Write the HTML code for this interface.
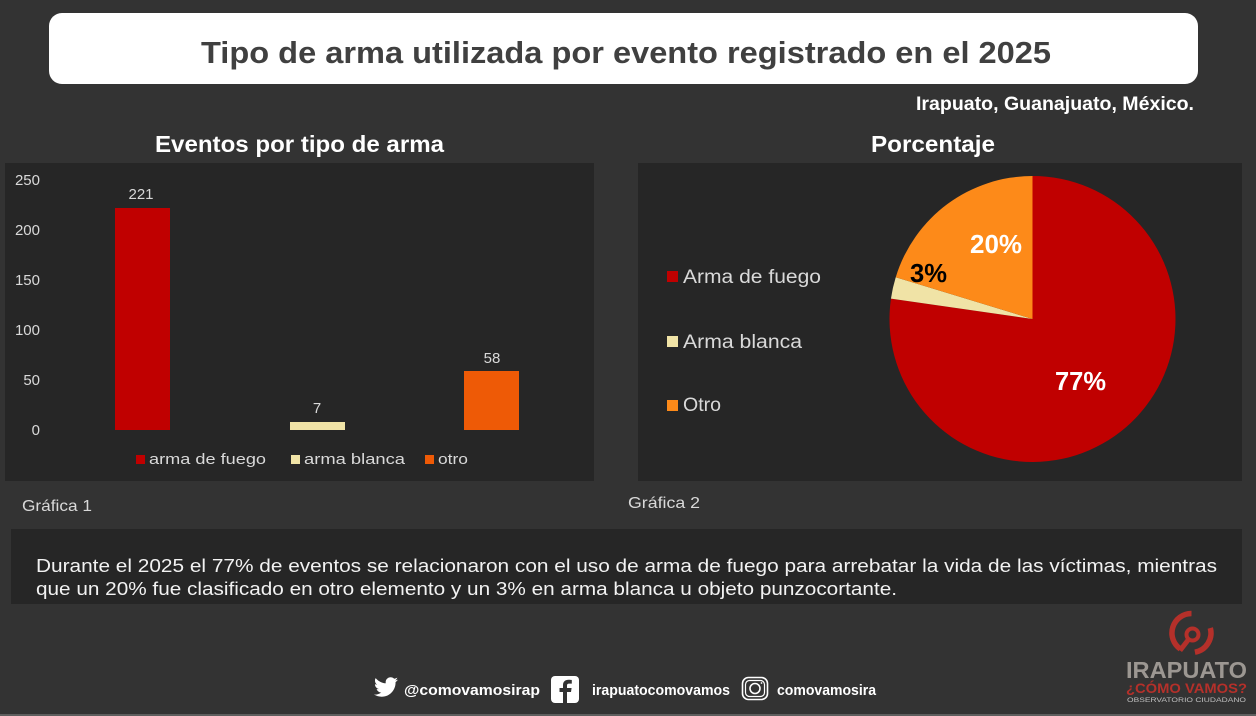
<!DOCTYPE html>
<html>
<head>
<meta charset="utf-8">
<style>
  html, body { margin:0; padding:0; background:#333333; }
  svg { display:block; }
  text { font-family: "Liberation Sans", "DejaVu Sans", sans-serif; }
</style>
</head>
<body>
<svg width="1256" height="716" viewBox="0 0 1256 716" xmlns="http://www.w3.org/2000/svg">
  <rect x="0" y="0" width="1256" height="716" fill="#333333"/>

  <!-- Title box -->
  <rect x="49" y="13" width="1149" height="71" rx="13" ry="13" fill="#ffffff"/>
  <text x="201" y="63" font-size="31" font-weight="bold" fill="#404040" textLength="850" lengthAdjust="spacingAndGlyphs">Tipo de arma utilizada por evento registrado en el 2025</text>

  <text x="916" y="110" font-size="19" font-weight="bold" fill="#ffffff" textLength="278" lengthAdjust="spacingAndGlyphs">Irapuato, Guanajuato, México.</text>

  <!-- Section titles -->
  <text x="155" y="152" font-size="23" font-weight="bold" fill="#ffffff" textLength="289" lengthAdjust="spacingAndGlyphs">Eventos por tipo de arma</text>
  <text x="871" y="152" font-size="23" font-weight="bold" fill="#ffffff" textLength="124" lengthAdjust="spacingAndGlyphs">Porcentaje</text>

  <!-- Left panel -->
  <rect x="5" y="163" width="589" height="318" fill="#262626"/>
  <g font-size="15" fill="#d9d9d9" text-anchor="end">
    <text x="40" y="185">250</text>
    <text x="40" y="235">200</text>
    <text x="40" y="285">150</text>
    <text x="40" y="335">100</text>
    <text x="40" y="385">50</text>
    <text x="40" y="435">0</text>
  </g>
  <rect x="115" y="208" width="55" height="222" fill="#c00000"/>
  <rect x="290" y="422" width="55" height="8" fill="#f0e3a6"/>
  <rect x="464" y="371" width="55" height="59" fill="#ee5a06"/>
  <g font-size="15" fill="#d9d9d9" text-anchor="middle">
    <text x="141" y="199">221</text>
    <text x="317" y="413">7</text>
    <text x="492" y="363">58</text>
  </g>
  <!-- bar legend -->
  <rect x="136" y="455" width="9" height="9" fill="#c00000"/>
  <text x="149" y="464" font-size="15" fill="#d9d9d9" textLength="117" lengthAdjust="spacingAndGlyphs">arma de fuego</text>
  <rect x="291" y="455" width="9" height="9" fill="#f0e3a6"/>
  <text x="304" y="464" font-size="15" fill="#d9d9d9" textLength="101" lengthAdjust="spacingAndGlyphs">arma blanca</text>
  <rect x="425" y="455" width="9" height="9" fill="#ee5a06"/>
  <text x="438" y="464" font-size="15" fill="#d9d9d9" textLength="30" lengthAdjust="spacingAndGlyphs">otro</text>

  <text x="22" y="511" font-size="16" fill="#d9d9d9" textLength="70" lengthAdjust="spacingAndGlyphs">Gráfica 1</text>

  <!-- Right panel -->
  <rect x="638" y="163" width="604" height="318" fill="#262626"/>
  <!-- pie -->
  <path d="M1032.5 319 L1032.5 176 A143 143 0 1 1 890.95 298.65 Z" fill="#c00000"/>
  <path d="M1032.5 319 L890.95 298.65 A143 143 0 0 1 895.74 277.22 Z" fill="#f0e3a6"/>
  <path d="M1032.5 319 L895.74 277.22 A143 143 0 0 1 1032.5 176 Z" fill="#fd8a19"/>
  <text x="970" y="253" font-size="26" font-weight="bold" fill="#ffffff" textLength="52" lengthAdjust="spacingAndGlyphs">20%</text>
  <text x="910" y="282" font-size="26" font-weight="bold" fill="#000000" textLength="37" lengthAdjust="spacingAndGlyphs">3%</text>
  <text x="1055" y="390" font-size="26" font-weight="bold" fill="#ffffff" textLength="51" lengthAdjust="spacingAndGlyphs">77%</text>
  <!-- pie legend -->
  <rect x="667" y="271" width="11" height="11" fill="#c00000"/>
  <text x="683" y="283" font-size="19" fill="#d9d9d9" textLength="138" lengthAdjust="spacingAndGlyphs">Arma de fuego</text>
  <rect x="667" y="336" width="11" height="11" fill="#f0e3a6"/>
  <text x="683" y="348" font-size="19" fill="#d9d9d9" textLength="119" lengthAdjust="spacingAndGlyphs">Arma blanca</text>
  <rect x="667" y="400" width="11" height="11" fill="#fd8a19"/>
  <text x="683" y="411" font-size="19" fill="#d9d9d9" textLength="38" lengthAdjust="spacingAndGlyphs">Otro</text>

  <text x="628" y="508" font-size="16" fill="#d9d9d9" textLength="72" lengthAdjust="spacingAndGlyphs">Gráfica 2</text>

  <!-- Text box -->
  <rect x="11" y="529" width="1231" height="75" fill="#262626"/>
  <text x="36" y="572" font-size="18" fill="#f2f2f2" textLength="1181" lengthAdjust="spacingAndGlyphs">Durante el 2025 el 77% de eventos se relacionaron con el uso de arma de fuego para arrebatar la vida de las víctimas, mientras</text>
  <text x="36" y="595" font-size="18" fill="#f2f2f2" textLength="861" lengthAdjust="spacingAndGlyphs">que un 20% fue clasificado en otro elemento y un 3% en arma blanca u objeto punzocortante.</text>

  <!-- Footer social -->
  <g transform="translate(374,675) scale(1.0)">
    <path fill="#ffffff" d="M23.954 4.569c-.885.389-1.830.654-2.825.775 1.014-.611 1.794-1.574 2.163-2.723-.951.555-2.005.959-3.127 1.184-.896-.959-2.173-1.559-3.591-1.559-2.717 0-4.920 2.203-4.920 4.917 0 .39.045.765.127 1.124C7.691 8.094 4.066 6.13 1.64 3.161c-.427.722-.666 1.561-.666 2.475 0 1.71.87 3.213 2.188 4.096-.807-.026-1.566-.248-2.228-.616v.061c0 2.385 1.693 4.374 3.946 4.827-.413.111-.849.171-1.296.171-.314 0-.615-.03-.916-.086.631 1.953 2.445 3.377 4.604 3.417-1.68 1.319-3.809 2.105-6.102 2.105-.39 0-.779-.023-1.17-.067 2.189 1.394 4.768 2.209 7.557 2.209 9.054 0 13.999-7.496 13.999-13.986 0-.209 0-.42-.015-.63.961-.689 1.8-1.56 2.46-2.548l-.047-.02z"/>
  </g>
  <text x="404" y="695" font-size="15" font-weight="bold" fill="#ffffff" textLength="136" lengthAdjust="spacingAndGlyphs">@comovamosirap</text>

  <rect x="551" y="676" width="28" height="27" rx="4" fill="#ffffff"/>
  <path d="M567 703 L567 692 L571 692 L571.6 688 L567 688 L567 685.5 C567 684.3 567.5 683.6 569 683.6 L571.8 683.6 L571.8 680 C571 679.9 570 679.8 568.6 679.8 C565.3 679.8 563 681.6 563 685.2 L563 688 L559.5 688 L559.5 692 L563 692 L563 703 Z" fill="#333333"/>
  <text x="592" y="695" font-size="15" font-weight="bold" fill="#ffffff" textLength="138" lengthAdjust="spacingAndGlyphs">irapuatocomovamos</text>

  <rect x="742.5" y="677.5" width="25" height="22" rx="6" fill="none" stroke="#ffffff" stroke-width="1.6"/>
  <rect x="745.5" y="680.5" width="19" height="16" rx="4" fill="none" stroke="#ffffff" stroke-width="1.2"/>
  <circle cx="755" cy="688.5" r="5" fill="none" stroke="#ffffff" stroke-width="1.6"/>
  <circle cx="761.5" cy="683" r="0.9" fill="#ffffff"/>
  <text x="777" y="695" font-size="15" font-weight="bold" fill="#ffffff" textLength="99" lengthAdjust="spacingAndGlyphs">comovamosira</text>

  <!-- Logo -->
  <g fill="none" stroke="#b5302a" stroke-linecap="butt">
    <path d="M1191.5 613.5 A19.5 19.5 0 0 0 1180.3 649" stroke-width="5.5"/>
    <path d="M1210.3 628 A19.5 19.5 0 0 1 1194.9 652.2" stroke-width="5.5"/>
    <circle cx="1192.5" cy="634.5" r="6" stroke-width="4"/>
    <path d="M1188.5 639.5 L1180 650.5" stroke-width="5"/>
  </g>
  <text x="1126" y="678" font-size="23" font-weight="bold" fill="#9c9792" textLength="121" lengthAdjust="spacingAndGlyphs">IRAPUATO</text>
  <text x="1126" y="693" font-size="14" font-weight="bold" fill="#b5302a" textLength="121" lengthAdjust="spacingAndGlyphs">¿CÓMO VAMOS?</text>
  <text x="1127" y="702" font-size="6" fill="#bfbfbf" textLength="119" lengthAdjust="spacingAndGlyphs">OBSERVATORIO CIUDADANO</text>

  <rect x="0" y="714" width="1256" height="2" fill="#5e5e5e"/>
</svg>
</body>
</html>
